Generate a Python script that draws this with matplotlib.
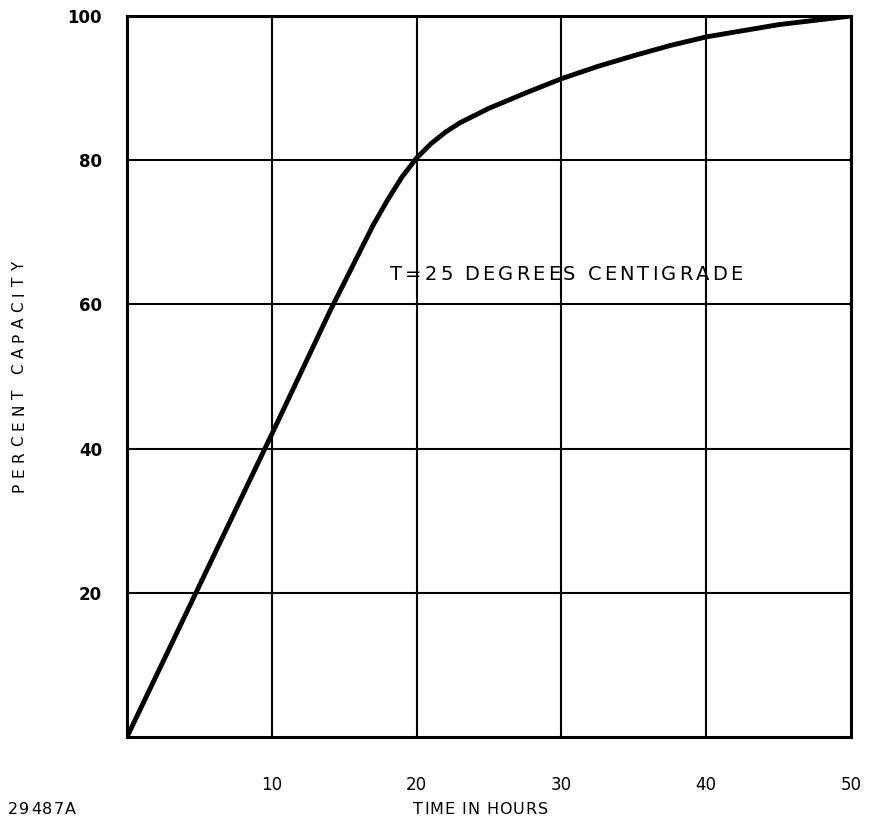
import matplotlib.pyplot as plt
import numpy as np

plt.rcParams['font.family'] = ['DejaVu Sans']

# Data
hours = [0, 5, 10, 14, 16, 17, 18, 19, 20, 21, 22, 23, 25, 27.5, 30, 32.5, 35,
         37.5, 40, 45, 50]
capacity = [0, 21, 42, 59, 67, 71, 74.5, 77.7, 80.3, 82.3, 83.9, 85.2, 87.2,
            89.3, 91.3, 93, 94.5, 95.9, 97.1, 98.8, 100]
x_ticks = [10, 20, 30, 40, 50]
y_ticks = [20, 40, 60, 80, 100]

W, H = 873, 824
fig = plt.figure(figsize=(W / 100, H / 100), dpi=100)
ax = fig.add_axes([127 / W, 1 - 737 / H, (851 - 127) / W, (737 - 16) / H])


def spaced_text(s, start, end, across, size, vertical=False):
    # the original lettering is widely spaced, so place it letter by letter
    r = fig.canvas.get_renderer()
    px = size * 100 / 72
    widths = []
    for ch in s:
        if ch == ' ':
            widths.append(0.3 * px)
            continue
        t = fig.text(0, 0, ch, fontsize=size)
        widths.append(t.get_window_extent(r).width)
        t.remove()
    gap = (abs(end - start) - sum(widths)) / (len(s) - 1)
    base = across + 0.729 * px / 2  # baseline so caps are centred on 'across'
    pos = start
    for ch, w in zip(s, widths):
        if ch != ' ':
            if vertical:
                fig.text(base / W, 1 - pos / H, ch, fontsize=size, rotation=90,
                         rotation_mode='anchor', ha='left', va='baseline')
            else:
                fig.text(pos / W, 1 - base / H, ch, fontsize=size,
                         ha='left', va='baseline')
        pos += (w + gap) * (-1 if vertical else 1)


ax.plot(hours, capacity, color='black', linewidth=3.5,
        solid_capstyle='round', solid_joinstyle='round', zorder=3)

ax.set_xlim(0, 50)
ax.set_ylim(0, 100)
ax.set_xticks(x_ticks)
ax.set_yticks(y_ticks)
ax.set_xticklabels([str(t) for t in x_ticks], fontsize=12)
ax.set_yticklabels([str(t) for t in y_ticks], fontsize=12, fontweight='bold')
ax.tick_params(length=0)
ax.tick_params(axis='x', pad=28)
ax.tick_params(axis='y', pad=18)
ax.grid(color='black', linewidth=1.5)
for s in ax.spines.values():
    s.set_linewidth(2.2)
    s.set_color('black')

spaced_text("T=25 DEGREES CENTIGRADE", 390, 742, 273, 14)
spaced_text("PERCENT CAPACITY", 492, 262, 18, 11, vertical=True)
spaced_text("TIME IN HOURS", 413, 548, 808, 11.5)
spaced_text("29487A", 8, 76, 808, 11.5)

fig.savefig('out.png', dpi=100)
